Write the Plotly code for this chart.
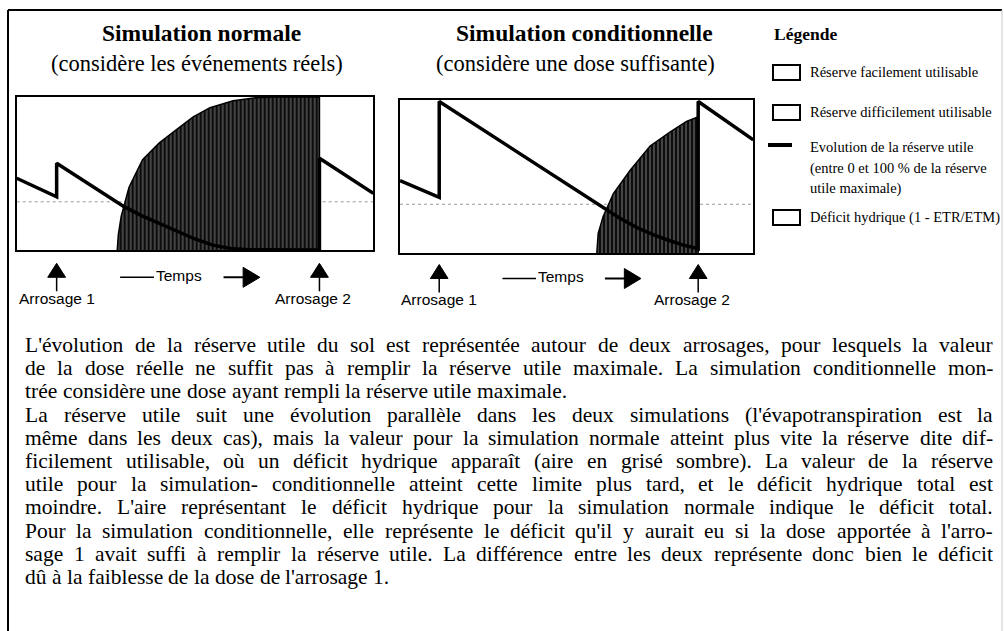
import unicodedata
import plotly.graph_objects as go

W, H = 1004, 631
SERIF = "Liberation Serif"
SANS = "Liberation Sans"

# ---------------- data (days 0..100, reserve utile as fraction of max) ----------------
p1_line_day = [0, 11.2, 11.2, 28, 30, 35, 40, 45, 50, 55, 60, 65, 84.9, 84.9, 100]
p1_line_ru = [0.469, 0.348, 0.567, 0.315, 0.285, 0.225, 0.172, 0.12, 0.072, 0.032, 0.01, 0.002, 0.0, 0.6, 0.37]

p2_line_day = [0, 11.1, 11.1, 56, 57.5, 62, 67, 72, 76.4, 80, 84.4, 84.4, 100]
p2_line_ru = [0.474, 0.365, 0.99, 0.32, 0.295, 0.232, 0.168, 0.118, 0.082, 0.055, 0.03, 0.99, 0.74]

p1_def_day = [28.2, 28.5, 29.3, 31.5, 35.3, 40, 45, 49.5, 54.2, 60.7, 67, 72, 84.9, 84.9]
p1_def_val = [0, 0.1, 0.22, 0.41, 0.59, 0.70, 0.79, 0.87, 0.93, 0.975, 0.995, 1.0, 1.0, 0]

p2_def_day = [55.7, 56.1, 57.5, 60.4, 65.1, 70.8, 76.4, 81.1, 84.4, 84.4]
p2_def_val = [0, 0.13, 0.24, 0.39, 0.54, 0.70, 0.79, 0.86, 0.89, 0]

thresholds = [0.315, 0.32]
arrosage_p1 = [11.2, 84.9]
arrosage_p2 = [11.1, 84.4]
arrosage_labels = ["Arrosage 1", "Arrosage 2"]
temps_label = "Temps"

titles = ["Simulation normale", "Simulation conditionnelle"]
subtitles = ["(considère les événements réels)", "(considère une dose suffisante)"]

legend_title = "Légende"
legend_labels = ["Réserve facilement utilisable",
                 "Réserve difficilement utilisable",
                 "Evolution de la réserve utile",
                 "(entre 0 et 100 % de la réserve",
                 "utile maximale)",
                 "Déficit hydrique (1 - ETR/ETM)"]

body_lines = [
    "L'évolution de la réserve utile du sol est représentée autour de deux arrosages, pour lesquels la valeur",
    "de la dose réelle ne suffit pas à remplir la réserve utile maximale. La simulation conditionnelle mon-",
    "trée considère une dose ayant rempli la réserve utile maximale.",
    "La réserve utile suit une évolution parallèle dans les deux simulations (l'évapotranspiration est la",
    "même dans les deux cas), mais la valeur pour la simulation normale atteint plus vite la réserve dite dif-",
    "ficilement utilisable, où un déficit hydrique apparaît (aire en grisé sombre). La valeur de la réserve",
    "utile pour la simulation- conditionnelle atteint cette limite plus tard, et le déficit hydrique total est",
    "moindre. L'aire représentant le déficit hydrique pour la simulation normale indique le déficit total.",
    "Pour la simulation conditionnelle, elle représente le déficit qu'il y aurait eu si la dose apportée à l'arro-",
    "sage 1 avait suffi à remplir la réserve utile. La différence entre les deux représente donc bien le déficit",
    "dû à la faiblesse de la dose de l'arrosage 1.",
]
paragraph_ends = [2, 10]

# ---------------- helpers ----------------
def px(x):
    return x / W


def py(y):
    return 1 - y / H


TIMES = dict(a=444, b=500, c=444, d=500, e=444, f=333, g=500, h=500, i=278, j=278, k=500, l=278, m=778,
             n=500, o=500, p=500, q=500, r=333, s=389, t=278, u=500, v=500, w=722, x=500, y=500, z=444,
             A=722, B=667, C=667, D=722, E=611, F=556, G=722, H=722, I=333, J=389, K=722, L=611, M=889,
             N=722, O=722, P=556, Q=722, R=667, S=556, T=611, U=722, V=722, W=944, X=722, Y=722, Z=611)
TIMES.update({" ": 250, ",": 250, ".": 250, "'": 180, "-": 333, "(": 333, ")": 333, "%": 833, "/": 278})
for dgt in "0123456789":
    TIMES[dgt] = 500


def text_width(s, size):
    tot = 0
    for ch in s:
        base = unicodedata.normalize("NFD", ch)[0]
        tot += TIMES.get(base, 500)
    return tot / 1000 * size


fig = go.Figure()

# ---------------- panels ----------------
panels = [
    dict(xa="x", ya="y", day=p1_line_day, ru=p1_line_ru, dd=p1_def_day, dv=p1_def_val,
         thr=thresholds[0], arr=arrosage_p1),
    dict(xa="x2", ya="y2", day=p2_line_day, ru=p2_line_ru, dd=p2_def_day, dv=p2_def_val,
         thr=thresholds[1], arr=arrosage_p2),
]

for p in panels:
    fig.add_trace(go.Scatter(x=[0, 100], y=[p["thr"], p["thr"]], mode="lines",
                             line=dict(color="#9a9a9a", width=1, dash="dot"),
                             xaxis=p["xa"], yaxis=p["ya"], hoverinfo="skip", showlegend=False))
    fig.add_trace(go.Scatter(x=p["dd"], y=p["dv"], mode="lines", fill="tozeroy",
                             line=dict(color="#000", width=1.5), fillcolor="#0d0d0d",
                             fillpattern=dict(shape="|", bgcolor="#0d0d0d", fgcolor="#f2f2f2",
                                              size=4, solidity=0.24),
                             xaxis=p["xa"], yaxis=p["ya"], hoverinfo="skip", showlegend=False))
    fig.add_trace(go.Scatter(x=p["day"], y=p["ru"], mode="lines",
                             line=dict(color="#000", width=3.5),
                             xaxis=p["xa"], yaxis=p["ya"], hoverinfo="skip", showlegend=False))

axis_common = dict(range=[0, 100], showgrid=False, zeroline=False, showticklabels=False, ticks="",
                   showline=True, mirror=True, linecolor="#000", linewidth=2, fixedrange=True)
yaxis_common = dict(axis_common, range=[0, 1])

fig.update_layout(
    width=W, height=H, margin=dict(l=0, r=0, t=0, b=0),
    paper_bgcolor="white", plot_bgcolor="white", showlegend=False,
    xaxis=dict(axis_common, domain=[px(16.7), px(373.3)], anchor="y"),
    yaxis=dict(yaxis_common, domain=[py(250), py(97)], anchor="x"),
    xaxis2=dict(axis_common, domain=[px(400), px(753.3)], anchor="y2"),
    yaxis2=dict(yaxis_common, domain=[py(253.3), py(100)], anchor="x2"),
)

shapes = []
annotations = []

# outer frame
shapes.append(dict(type="line", xref="paper", yref="paper", x0=px(8), x1=px(1002), y0=py(10), y1=py(10),
                   line=dict(color="#000", width=2)))
shapes.append(dict(type="line", xref="paper", yref="paper", x0=px(8), x1=px(8), y0=py(10), y1=py(631),
                   line=dict(color="#000", width=2)))
shapes.append(dict(type="line", xref="paper", yref="paper", x0=px(1002), x1=px(1002), y0=py(10), y1=py(631),
                   line=dict(color="#c8c8c8", width=1)))

# arrows under panels
for p, tip_y in zip(panels, [263.3, 264.5]):
    xr = p["xa"]
    base_y, stem_y = tip_y + 14, tip_y + 28
    for a in p["arr"]:
        shapes.append(dict(type="path", xref=xr, yref="paper",
                           path=f"M {a},{py(tip_y)} L {a - 2.5},{py(base_y)} L {a + 2.5},{py(base_y)} Z",
                           fillcolor="#000", line=dict(color="#000", width=1)))
        shapes.append(dict(type="line", xref=xr, yref="paper", x0=a, x1=a, y0=py(base_y), y1=py(stem_y),
                           line=dict(color="#000", width=1.5)))
    for i, (a, lab) in enumerate(zip(p["arr"], arrosage_labels)):
        annotations.append(dict(text=lab, xref=xr, yref="paper", x=a, y=py(tip_y + 35), showarrow=False,
                                xanchor="center", yanchor="middle", xshift=-6 if i == 1 else 0,
                                font=dict(family=SANS, size=15.5, color="#000")))
    ty = tip_y + 14
    shapes.append(dict(type="line", xref=xr, yref="paper", x0=29, x1=38.5, y0=py(ty), y1=py(ty),
                       line=dict(color="#000", width=1.5)))
    annotations.append(dict(text=temps_label, xref=xr, yref="paper", x=45.6, y=py(ty - 2), showarrow=False,
                            xanchor="center", yanchor="middle", font=dict(family=SANS, size=15.5, color="#000")))
    shapes.append(dict(type="line", xref=xr, yref="paper", x0=58, x1=64, y0=py(ty), y1=py(ty),
                       line=dict(color="#000", width=2)))
    shapes.append(dict(type="path", xref=xr, yref="paper",
                       path=f"M 63.5,{py(ty - 10)} L 68.2,{py(ty)} L 63.5,{py(ty + 10)} Z",
                       fillcolor="#000", line=dict(color="#000", width=1)))

# titles
for t, s, cx_t, cx_s in zip(titles, subtitles, [201, 584], [196.5, 575]):
    annotations.append(dict(text=f"<b>{t}</b>", xref="paper", yref="paper", x=px(cx_t), y=py(33),
                            showarrow=False, xanchor="center", yanchor="middle",
                            font=dict(family=SERIF, size=23.5, color="#000")))
    annotations.append(dict(text=s, xref="paper", yref="paper", x=px(cx_s), y=py(63),
                            showarrow=False, xanchor="center", yanchor="middle",
                            font=dict(family=SERIF, size=22.5, color="#000")))

# legend
annotations.append(dict(text=f"<b>{legend_title}</b>", xref="paper", yref="paper", x=px(772), y=py(34),
                        showarrow=False, xanchor="left", yanchor="middle",
                        font=dict(family=SERIF, size=17.5, color="#000")))
for y0 in [65, 105, 210]:
    shapes.append(dict(type="rect", xref="paper", yref="paper", x0=px(773), x1=px(800), y0=py(y0), y1=py(y0 + 15),
                       fillcolor="white", line=dict(color="#000", width=2)))
shapes.append(dict(type="line", xref="paper", yref="paper", x0=px(768), x1=px(792), y0=py(145), y1=py(145),
                   line=dict(color="#000", width=4)))
for lab, yy in zip(legend_labels, [72, 112, 147, 168, 189, 218]):
    annotations.append(dict(text=lab, xref="paper", yref="paper", x=px(808), y=py(yy), showarrow=False,
                            xanchor="left", yanchor="middle", font=dict(family=SERIF, size=14.5, color="#000")))

# body text, justified word by word
BODY_SIZE = 21.5
left, right = 25, 993
for k, line in enumerate(body_lines):
    words = line.split(" ")
    widths = [text_width(w_, BODY_SIZE) for w_ in words]
    if k in paragraph_ends or len(words) < 2:
        gap = text_width(" ", BODY_SIZE)
    else:
        gap = (right - left - sum(widths)) / (len(words) - 1)
    x = left
    yy = 345 + 23.2 * k
    for w_, ww in zip(words, widths):
        annotations.append(dict(text=w_, xref="paper", yref="paper", x=px(x - 1), y=py(yy), showarrow=False,
                                xanchor="left", yanchor="middle", borderpad=0,
                                font=dict(family=SERIF, size=BODY_SIZE, color="#000")))
        x += ww + gap

fig.update_layout(shapes=shapes, annotations=annotations)
fig.write_html("out.html", config={"displayModeBar": False, "staticPlot": True},
               post_script="document.body.style.margin='0';document.body.style.padding='0';"
                           "document.documentElement.style.overflow='hidden';")
